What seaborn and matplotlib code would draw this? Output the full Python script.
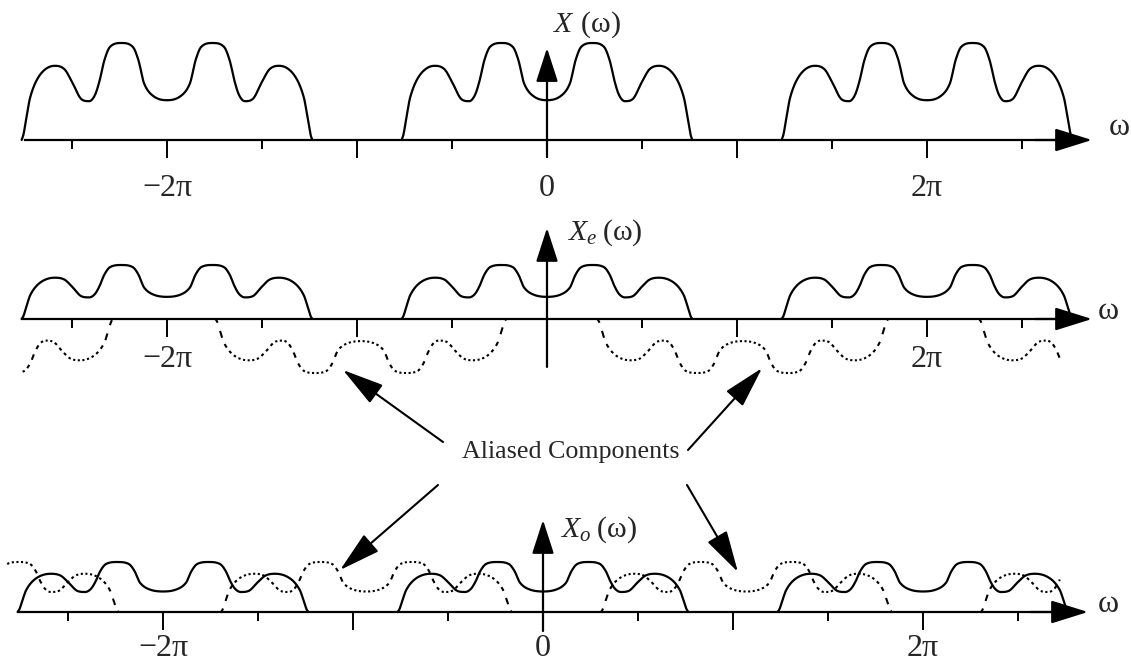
import numpy as np
import pandas as pd
import matplotlib
matplotlib.use("Agg")
import matplotlib.pyplot as plt
from matplotlib.patches import ArrowStyle
import seaborn as sns

# ---------------------------------------------------------------------------
# Data (frequencies in units of pi)
# ---------------------------------------------------------------------------
# right half of the baseband spectrum X(w); mirrored about w = 0
shape_w = np.array([0.0, 0.07, 0.12, 0.15, 0.18, 0.24, 0.30, 0.33, 0.355, 0.38,
                    0.41, 0.45, 0.50, 0.54, 0.59, 0.64, 0.685, 0.72, 0.74, 0.755, 0.765])
shape_h = np.array([0.41, 0.45, 0.58, 0.82, 0.96, 1.00, 0.96, 0.82, 0.61, 0.46,
                    0.40, 0.42, 0.60, 0.73, 0.765, 0.73, 0.62, 0.44, 0.23, 0.06, 0.0])

image_centres = np.array([-2.0, 0.0, 2.0])            # periodic replicas of X(w)
even_alias_centres = np.array([-3.05, -0.98, 1.03, 3.04])
odd_alias_centres = np.array([-3.0, -0.93, 1.07, 3.07])
even_alias_range = (-2.76, 2.70)
odd_alias_range = (-2.82, 2.72)
decimation_gain = 0.5
even_alias_sign = -1.0
odd_alias_sign = 1.0

major_ticks = [-2, -1, 0, 1, 2]
minor_ticks = [-2.5, -1.5, -0.5, 0.5, 1.5, 2.5]
labels_x = ["\u22122\u03c0", "", "0", "", "2\u03c0"]
labels_xe = ["\u22122\u03c0", "", "", "", "2\u03c0"]
labels_xo = ["\u22122\u03c0", "", "0", "", "2\u03c0"]
panel_titles = [r"$X\;\,(\mathrm{ω})$", r"$X_e\;(\mathrm{ω})$", r"$X_o\;(\mathrm{ω})$"]
axis_symbol = "\u03c9"
alias_text = "Aliased Components"

# ---------------------------------------------------------------------------
sns.set_style("white")
plt.rcParams["font.family"] = ["Liberation Serif", "DejaVu Serif"]
plt.rcParams["mathtext.fontset"] = "custom"
plt.rcParams["mathtext.rm"] = "Liberation Serif"
plt.rcParams["mathtext.it"] = "Liberation Serif:italic"

LW = 1.6


def smooth_interp(xk, yk, x):
    """Cubic Hermite through the knots; centred slopes, flat at extrema."""
    h = np.diff(xk)
    d = np.diff(yk) / h
    m = np.zeros_like(yk)
    for k in range(1, len(xk) - 1):
        if d[k - 1] * d[k] > 0:
            mk = (yk[k + 1] - yk[k - 1]) / (xk[k + 1] - xk[k - 1])
            lim = 3 * min(abs(d[k - 1]), abs(d[k]))
            m[k] = np.sign(mk) * min(abs(mk), lim)
    m[0], m[-1] = d[0], d[-1]
    idx = np.clip(np.searchsorted(xk, x) - 1, 0, len(xk) - 2)
    t = (x - xk[idx]) / h[idx]
    h00 = 2 * t**3 - 3 * t**2 + 1
    h10 = t**3 - 2 * t**2 + t
    h01 = -2 * t**3 + 3 * t**2
    h11 = t**3 - t**2
    return h00 * yk[idx] + h10 * h[idx] * m[idx] + h01 * yk[idx + 1] + h11 * h[idx] * m[idx + 1]


full_w = np.concatenate([-shape_w[::-1], shape_w[1:]])
full_h = np.concatenate([shape_h[::-1], shape_h[1:]])
edge = shape_w[-1]


def spectrum(w):
    out = np.zeros_like(w)
    inside = np.abs(w) <= edge
    out[inside] = smooth_interp(full_w, full_h, w[inside])
    return np.maximum(out, 0)


def replicas(centres, gain):
    rows = []
    for i, c in enumerate(centres):
        w = np.linspace(c - edge, c + edge, 700)
        rows.append(pd.DataFrame({"w": w, "y": gain * spectrum(w - c), "copy": i}))
    return pd.concat(rows, ignore_index=True)


def aliased(centres, gain, sign, wrange, period=0.0242, on=0.011):
    # dotted trace: short strokes at a fixed step along w
    rows = []
    seg = 0
    for c in centres:
        lo = max(c - edge, wrange[0])
        hi = min(c + edge, wrange[1])
        if lo >= hi:
            continue
        for s in np.arange(lo, hi, period):
            w = np.linspace(s, min(s + on, hi), 5)
            rows.append(pd.DataFrame({"w": w, "y": sign * gain * spectrum(w - c), "seg": seg}))
            seg += 1
    return pd.concat(rows, ignore_index=True)


W, H = 1131, 664
fig = plt.figure(figsize=(W / 100, H / 100), dpi=100)

panels = [
    dict(x0=547, y0=140, k=97, start=-2.747, tip=2.868, pad=11.5, labels=labels_x,
         vbot=-0.175, vtop=0.948, title=(0.026, 1.113), sym=(3.011, 0.124)),
    dict(x0=547, y0=319, k=108, start=-2.763, tip=2.868, pad=6.0, labels=labels_xe,
         vbot=-0.444, vtop=0.843, title=(0.105, 0.731), sym=(2.953, 0.065)),
    dict(x0=543, y0=612, k=100, start=-2.763, tip=2.868, pad=2.5, labels=labels_xo,
         vbot=-0.19, vtop=0.92, title=(0.089, 0.75), sym=(2.974, 0.08)),
]

axes = []
for p in panels:
    ax = fig.add_axes([0, 0, 1, 1])
    ax.set_facecolor("none")
    axes.append(ax)

# spectra
sns.lineplot(data=replicas(image_centres, 1.0), x="w", y="y", units="copy",
             estimator=None, sort=False, color="k", linewidth=LW, legend=False, ax=axes[0])
sns.lineplot(data=replicas(image_centres, decimation_gain), x="w", y="y", units="copy",
             estimator=None, sort=False, color="k", linewidth=LW, legend=False, ax=axes[1])
sns.lineplot(data=aliased(even_alias_centres, decimation_gain, even_alias_sign, even_alias_range),
             x="w", y="y", units="seg", estimator=None, sort=False, color="k",
             linewidth=1.5, solid_capstyle="butt", legend=False, ax=axes[1])
sns.lineplot(data=replicas(image_centres, decimation_gain), x="w", y="y", units="copy",
             estimator=None, sort=False, color="k", linewidth=LW, legend=False, ax=axes[2])
sns.lineplot(data=aliased(odd_alias_centres, decimation_gain, odd_alias_sign, odd_alias_range),
             x="w", y="y", units="seg", estimator=None, sort=False, color="k",
             linewidth=1.5, solid_capstyle="butt", legend=False, ax=axes[2])

h_head = ArrowStyle("-|>", head_length=23, head_width=7.2)
v_head = ArrowStyle("-|>", head_length=21, head_width=6.8)

for ax, p, title in zip(axes, panels, panel_titles):
    ax.set_xlim(-p["x0"] / 190, (W - p["x0"]) / 190)
    ax.set_ylim(-(H - p["y0"]) / p["k"], p["y0"] / p["k"])
    ax.set_xlabel("")
    ax.set_ylabel("")
    for s in ("top", "right", "left"):
        ax.spines[s].set_visible(False)
    sp = ax.spines["bottom"]
    sp.set_position(("data", 0))
    sp.set_bounds(p["start"], p["tip"] - 0.1)
    sp.set_linewidth(LW)
    sp.set_color("k")
    ax.set_yticks([])
    ax.set_xticks(major_ticks)
    ax.set_xticklabels(p["labels"])
    ax.set_xticks(minor_ticks, minor=True)
    ax.tick_params(axis="x", which="major", direction="out", length=13, width=1.4,
                   pad=p["pad"], labelsize=23, color="k", bottom=True)
    ax.tick_params(axis="x", which="minor", direction="out", length=6.5, width=1.4,
                   color="k", bottom=True)
    # frequency axis arrow head
    ax.annotate("", xy=(p["tip"], 0), xytext=(p["tip"] - 0.3, 0),
                arrowprops=dict(arrowstyle=h_head, mutation_scale=1, lw=LW, color="k",
                                shrinkA=0, shrinkB=0))
    # vertical magnitude axis
    ax.annotate("", xy=(0, p["vtop"]), xytext=(0, p["vbot"]),
                arrowprops=dict(arrowstyle=v_head, mutation_scale=1, lw=LW, color="k",
                                shrinkA=0, shrinkB=0))
    ax.text(p["title"][0], p["title"][1], title, fontsize=21.5, ha="left", va="baseline")
    ax.text(p["sym"][0], p["sym"][1], axis_symbol, fontsize=23, ha="center", va="center")

# callout for the aliased components
fig.text(571 / W, 1 - 452 / H, alias_text, fontsize=18.7, ha="center", va="center")
a_head = ArrowStyle("-|>", head_length=26, head_width=7.0)
callouts = [
    (axes[1], (-1.074, -0.472), (443, H - 442)),
    (axes[1], (1.132, -0.454), (688, H - 450)),
    (axes[2], (-1.068, 0.42), (438, H - 485)),
    (axes[2], (1.026, 0.40), (687, H - 485)),
]
for ax, tip, tail in callouts:
    ax.annotate("", xy=tip, xycoords="data", xytext=tail, textcoords="figure pixels",
                arrowprops=dict(arrowstyle=a_head, mutation_scale=1, lw=1.5, color="k",
                                shrinkA=0, shrinkB=0))

fig.savefig("out.png", dpi=100, facecolor="white")
